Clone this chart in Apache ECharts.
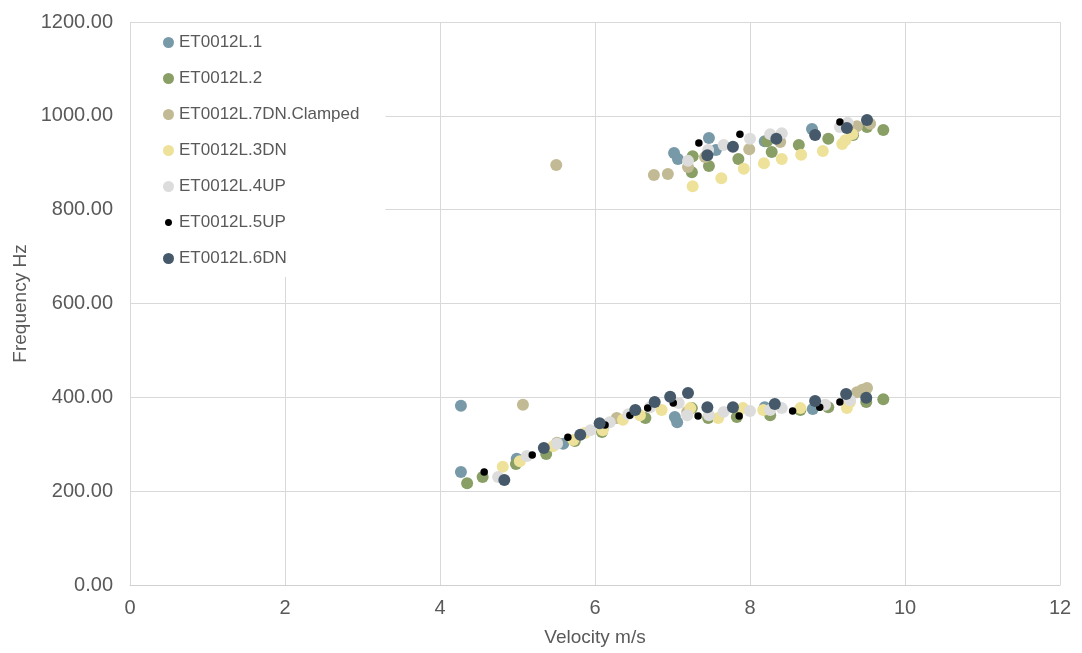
<!DOCTYPE html>
<html>
<head>
<meta charset="utf-8">
<script src="https://cdn.jsdelivr.net/npm/echarts@6/dist/echarts.min.js"></script>
<style>
html,body{margin:0;padding:0;background:#fff;}
#chart{width:1082px;height:653px;}
</style>
</head>
<body>
<div id="chart"></div>
<script>
// Series names (legend order)
const seriesNames = ['ET0012L.1','ET0012L.2','ET0012L.7DN.Clamped','ET0012L.3DN','ET0012L.4UP','ET0012L.5UP','ET0012L.6DN'];

// [velocity m/s, frequency Hz]
const dataL1 = [
  [7.02,921],[7.07,908],[7.47,953],[7.56,927],[8.19,946],[8.80,972],
  [4.27,382],[4.27,241],[4.99,269],[5.59,301],[6.10,335],[7.03,358],[7.06,347],[8.19,379],[8.81,375]
];
const dataL2 = [
  [7.26,914],[7.25,880],[7.47,893],[7.85,908],[8.22,946],[8.28,923],[8.63,938],[9.01,951],[9.33,959],[9.51,976],[9.72,970],
  [4.35,217],[4.55,230],[4.98,258],[5.37,279],[5.74,307],[6.09,326],[6.65,356],[7.25,377],[7.46,356],[7.83,358],[8.26,362],[8.65,373],[9.01,379],[9.50,390],[9.72,396]
];
const dataL7DN = [
  [5.50,895],[6.76,874],[6.94,876],[7.20,891],[7.42,912],[7.99,929],[8.39,944],[9.38,978],[9.55,983],
  [5.07,384],[5.51,303],[6.28,356],[7.19,369],[9.38,411],[9.45,416],[9.51,420]
];
const dataL3DN = [
  [7.26,850],[7.63,867],[7.92,887],[8.18,899],[8.41,908],[8.66,917],[8.94,925],[9.19,940],[9.23,948],[9.32,961],
  [4.81,252],[5.03,264],[5.46,296],[5.72,309],[5.87,324],[6.10,330],[6.36,352],[6.58,362],[6.86,373],[7.23,377],[7.59,356],[7.91,377],[8.17,373],[8.65,377],[9.25,377],[9.29,390]
];
const dataL4UP = [
  [7.20,904],[7.46,927],[7.66,938],[8.00,951],[8.26,961],[8.41,963],[9.16,976],[9.26,985],
  [4.75,230],[5.12,275],[5.51,301],[5.94,330],[6.19,347],[6.43,364],[6.71,379],[7.08,388],[7.19,362],[7.47,362],[7.66,369],[8.00,371],[8.26,373],[8.41,377],[8.97,384],[9.29,394]
];
const dataL5UP = [
  [7.34,942],[7.87,961],[9.16,987],
  [4.57,241],[5.19,277],[5.65,315],[6.13,341],[6.45,362],[6.68,377],[7.01,388],[7.33,360],[7.86,360],[8.55,371],[8.90,379],[9.16,390]
];
const dataL6DN = [
  [7.45,916],[7.78,934],[8.34,951],[8.84,959],[9.25,974],[9.51,991],
  [4.83,224],[5.34,292],[5.81,320],[6.06,345],[6.52,373],[6.77,390],[6.97,401],[7.20,409],[7.45,379],[7.78,379],[8.32,386],[8.84,392],[9.24,407],[9.50,399]
];
const allData = [dataL1,dataL2,dataL7DN,dataL3DN,dataL4UP,dataL5UP,dataL6DN];

const colors = ['#7799A8','#8A9F65','#C2BA94','#EEE199','#DCDCDC','#000000','#45596B'];
const sizes = [12,12,12,12,12,7.5,12];

const xTicks = [0,2,4,6,8,10,12];
const yTicks = [0,200,400,600,800,1000,1200];

const FONT = '"Liberation Sans", Arial, sans-serif';
const chart = echarts.init(document.getElementById('chart'), null, {renderer:'canvas'});

const smallDot = 'path://M0,0L0.001,0M11,11L11.001,11M5.5,2A3.5,3.5 0 1,1 5.5,9A3.5,3.5 0 1,1 5.5,2Z';

chart.setOption({
  animation:false,
  backgroundColor:'#fff',
  textStyle:{fontFamily:FONT},
  grid:{left:130,right:22,top:22,bottom:68,containLabel:false},
  xAxis:{
    type:'value', min:xTicks[0], max:xTicks[xTicks.length-1], interval:2,
    name:'Velocity m/s', nameLocation:'middle', nameGap:43,
    nameTextStyle:{color:'#595959',fontSize:19,fontFamily:FONT},
    axisLine:{show:true,lineStyle:{color:'#D0D0D0',width:1}},
    axisTick:{show:false},
    axisLabel:{color:'#595959',fontSize:20,margin:13,fontFamily:FONT},
    splitLine:{show:true,lineStyle:{color:'#D9D9D9',width:1}}
  },
  yAxis:{
    type:'value', min:yTicks[0], max:yTicks[yTicks.length-1], interval:200,
    name:'Frequency Hz', nameLocation:'middle', nameGap:98, nameRotate:90,
    nameTextStyle:{color:'#595959',fontSize:19,fontFamily:FONT},
    axisLine:{show:false},
    axisTick:{show:false},
    axisLabel:{color:'#595959',fontSize:20,margin:17,fontFamily:FONT,formatter:v=>v.toFixed(2)},
    splitLine:{show:true,lineStyle:{color:'#D9D9D9',width:1}}
  },
  legend:{
    orient:'vertical', left:131, top:23,
    backgroundColor:'#ffffff',
    padding:[11,26,10,32],
    itemWidth:11, itemHeight:11, itemGap:19,
    textStyle:{color:'#595959',fontSize:17,lineHeight:17,fontFamily:FONT},
    data:seriesNames.map((n,i)=>({name:n,icon: i===5 ? smallDot : 'circle'}))
  },
  series:seriesNames.map((n,i)=>({
    name:n, type:'scatter', data:allData[i],
    symbol:'circle', symbolSize:sizes[i],
    itemStyle:{color:colors[i],opacity:1},
    emphasis:{disabled:true}
  }))
});
</script>
</body>
</html>
